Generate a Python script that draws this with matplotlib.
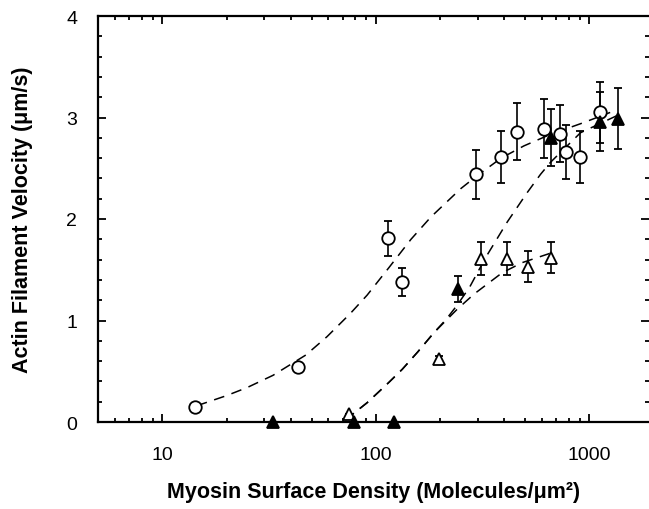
import numpy as np
import matplotlib
matplotlib.use("Agg")
import matplotlib.pyplot as plt
from matplotlib.ticker import MultipleLocator, LogLocator, FixedLocator, NullFormatter

plt.rcParams["font.family"] = ["Liberation Sans", "DejaVu Sans"]

# open circles
circ_x = [14.2, 43, 114, 132, 295, 386, 459, 612, 727, 778, 901, 1125]
circ_y = [0.15, 0.54, 1.81, 1.38, 2.44, 2.61, 2.86, 2.89, 2.84, 2.66, 2.61, 3.05]
circ_e = [0, 0, 0.17, 0.14, 0.24, 0.26, 0.28, 0.29, 0.28, 0.27, 0.26, 0.30]

# filled triangles
ftri_x = [33, 79, 122, 243, 658, 1125, 1355]
ftri_y = [0, 0, 0, 1.31, 2.80, 2.96, 2.99]
ftri_e = [0, 0, 0, 0.13, 0.28, 0.29, 0.30]

# open triangles
otri_x = [75, 198, 310, 412, 517, 658]
otri_y = [0.08, 0.62, 1.61, 1.61, 1.53, 1.62]
otri_e = [0, 0.03, 0.16, 0.16, 0.15, 0.15]

# dashed fit curves
fit1_x = [14.5, 20, 25, 33, 47, 59, 76, 91, 115, 146, 181, 250, 295, 386, 493, 650, 940, 1250]
fit1_y = [0.16, 0.26, 0.34, 0.46, 0.66, 0.84, 1.07, 1.25, 1.52, 1.80, 2.02, 2.30, 2.42, 2.60, 2.72, 2.83, 2.95, 3.05]
fit2_x = [72, 91, 115, 133, 157, 187, 213, 240, 275, 304, 333, 412, 511, 590, 658, 908, 1350]
fit2_y = [0.02, 0.19, 0.39, 0.52, 0.69, 0.88, 1.01, 1.15, 1.33, 1.50, 1.65, 1.97, 2.26, 2.44, 2.56, 2.85, 3.02]
fit3_x = [72, 91, 115, 133, 157, 187, 213, 240, 288, 390, 484, 650]
fit3_y = [0.02, 0.19, 0.39, 0.52, 0.69, 0.88, 1.00, 1.11, 1.26, 1.47, 1.57, 1.66]

fig = plt.figure(figsize=(6.49, 5.10), dpi=100)
ax = fig.add_axes([98 / 649, 1 - 423 / 510, 551 / 649, 406 / 510])

dash = dict(color="black", lw=1.1, dashes=(7, 5))
ax.plot(fit1_x, fit1_y, **dash)
ax.plot(fit2_x, fit2_y, **dash)
ax.plot(fit3_x, fit3_y, **dash)

eb = dict(ls="none", ecolor="black", elinewidth=1.2, capsize=3, capthick=1.2,
          mec="black", mew=1.3, clip_on=False, zorder=3)
ax.errorbar(circ_x, circ_y, yerr=circ_e, fmt="o", ms=9, mfc="white", **eb)
ax.errorbar(otri_x, otri_y, yerr=otri_e, fmt="^", ms=8.5, mfc="white", **eb)
ax.errorbar(ftri_x, ftri_y, yerr=ftri_e, fmt="^", ms=8.5, mfc="black", **eb)

ax.set_xscale("log")
ax.set_xlim(5, 1900)
ax.set_ylim(0, 4)
ax.xaxis.set_major_locator(FixedLocator([10, 100, 1000]))
ax.set_xticklabels(["10", "100", "1000"])
ax.xaxis.set_minor_locator(LogLocator(base=10, subs=np.arange(2, 10)))
ax.xaxis.set_minor_formatter(NullFormatter())
ax.yaxis.set_major_locator(MultipleLocator(1))
ax.yaxis.set_minor_locator(MultipleLocator(0.2))

for s in ax.spines.values():
    s.set_linewidth(1.6)
ax.spines["right"].set_visible(False)  # cut off at the edge in the scan
ax.tick_params(which="both", direction="in", top=True, right=True, width=1.3)
ax.tick_params(which="major", length=5.5, labelsize=14)
ax.tick_params(axis="x", which="major", pad=17)
ax.tick_params(axis="y", which="major", pad=15)
ax.tick_params(which="minor", length=3)

ax.set_xlabel("Myosin Surface Density (Molecules/\u03bcm\u00b2)", fontsize=15.5,
              fontweight="bold", labelpad=13)
ax.set_ylabel("Actin Filament Velocity (\u03bcm/s)", fontsize=15.5,
              fontweight="bold", labelpad=24)

fig.savefig("out.png", dpi=100)
